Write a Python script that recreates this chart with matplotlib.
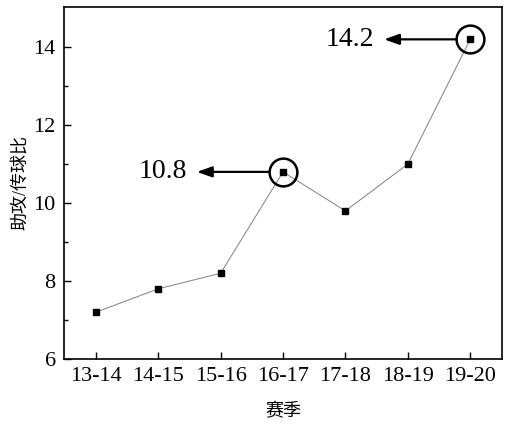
import numpy as np
import matplotlib.pyplot as plt

plt.rcParams['font.family'] = ['Liberation Serif', 'Noto Sans CJK SC']

seasons = ['13-14', '14-15', '15-16', '16-17', '17-18', '18-19', '19-20']
ratio = [7.2, 7.8, 8.2, 10.8, 9.8, 11.0, 14.2]
highlight = [3, 6]  # indices of circled points

fig = plt.figure(figsize=(5.13, 4.24), dpi=100)
ax = fig.add_axes([0.1248, 0.1533, 0.8538, 0.8302])

x = np.arange(len(seasons))
ax.plot(x, ratio, color='#808080', linewidth=0.7, zorder=2)
ax.plot(x, ratio, linestyle='none', marker='s', markersize=4.5,
        color='black', zorder=3)

for i in highlight:
    ax.plot(x[i], ratio[i], marker='o', markersize=20, markerfacecolor='none',
            markeredgecolor='black', markeredgewidth=1.8, zorder=4)
    ax.annotate('', xy=(x[i], ratio[i]), xycoords='data',
                xytext=(-62, 0), textcoords='offset points',
                arrowprops=dict(arrowstyle='<|-,head_length=0.9,head_width=0.32',
                                color='black', lw=1.6,
                                shrinkA=0, shrinkB=10))
    ax.annotate(f'{ratio[i]:.1f}', xy=(x[i], ratio[i]), xycoords='data',
                xytext=(-69, 0), textcoords='offset points',
                ha='right', va='center', fontsize=20)

ax.set_xlim(-0.51, 6.51)
ax.set_ylim(6, 15.03)
ax.set_xticks(x)
ax.set_xticklabels(seasons)
ax.set_yticks([6, 8, 10, 12, 14])
ax.set_yticks([7, 9, 11, 13], minor=True)
ax.tick_params(axis='both', which='major', direction='in', length=5,
               width=1, labelsize=16, pad=6)
ax.tick_params(axis='y', which='minor', direction='in', length=3, width=1)
for s in ax.spines.values():
    s.set_linewidth(1.2)

ax.set_xlabel('赛季', fontsize=13, labelpad=12)
ax.set_ylabel('助攻/传球比', fontsize=13, labelpad=3)

fig.savefig('out.png', dpi=100)
